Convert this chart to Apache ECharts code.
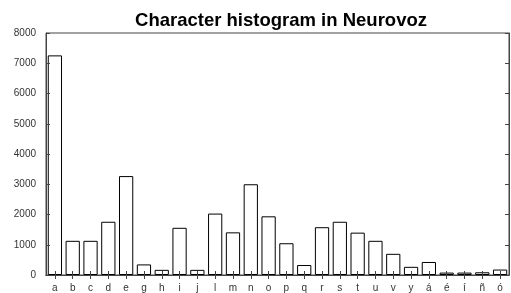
<!DOCTYPE html>
<html><head><meta charset="utf-8">
<script src="https://cdn.jsdelivr.net/npm/echarts@6/dist/echarts.min.js"></script>
<style>html,body{margin:0;padding:0;background:#fff}#c{width:511px;height:293px}</style>
</head><body><div id="c"></div>
<script>
var categories = ['a','b','c','d','e','g','h','i','j','l','m','n','o','p','q','r','s','t','u','v','y','á','é','í','ñ','ó'];
var counts = [7260,1130,1130,1760,3270,350,170,1560,170,2030,1410,3000,1940,1050,330,1580,1760,1400,1130,700,270,430,80,80,90,180];
var yTicks = {min:0, max:8000, interval:1000};
var titleText = 'Character histogram in Neurovoz';

var font = 'Liberation Sans, Arial, Helvetica, sans-serif';
var axisColor = '#444';
var tick = {show:true, inside:true, length:4, lineStyle:{color:axisColor, width:1}};
var chart = echarts.init(document.getElementById('c'), null, {renderer:'canvas'});
chart.setOption({
  animation:false,
  title:{text:titleText, left:276, top:6, textAlign:'center',
    textStyle:{fontFamily:font, fontSize:18.5, fontWeight:'bold', color:'#000'}},
  grid:{left:46, right:2, top:33, bottom:18, containLabel:false,
    show:true, borderColor:axisColor, borderWidth:1, backgroundColor:'transparent'},
  xAxis:[{
    type:'category', data:categories, position:'bottom', z:5,
    axisLine:{show:true, lineStyle:{color:axisColor, width:1}},
    axisTick:Object.assign({alignWithLabel:true}, tick),
    axisLabel:{fontFamily:font, fontSize:10, color:'#333', margin:8, interval:0}
  },{
    type:'category', data:categories, position:'top', z:5,
    axisLine:{show:true, lineStyle:{color:axisColor, width:1}},
    axisTick:Object.assign({alignWithLabel:true}, tick),
    axisLabel:{show:false}
  }],
  yAxis:[{
    type:'value', min:yTicks.min, max:yTicks.max, interval:yTicks.interval, position:'left', z:5,
    axisLine:{show:true, lineStyle:{color:axisColor, width:1}},
    axisTick:tick,
    splitLine:{show:false},
    axisLabel:{fontFamily:font, fontSize:10, color:'#333', margin:10, formatter:function(v){return String(v);}}
  },{
    type:'value', min:yTicks.min, max:yTicks.max, interval:yTicks.interval, position:'right', z:5,
    axisLine:{show:true, lineStyle:{color:axisColor, width:1}},
    axisTick:tick,
    splitLine:{show:false},
    axisLabel:{show:false}
  }],
  series:[{
    type:'bar', data:counts, xAxisIndex:0, yAxisIndex:0,
    barCategoryGap:'20%',
    itemStyle:{color:'#fff', borderColor:'#000', borderWidth:1}
  },{
    type:'bar', data:counts, xAxisIndex:1, yAxisIndex:1, silent:true,
    barCategoryGap:'20%', z:1,
    itemStyle:{color:'rgba(0,0,0,0)', borderWidth:0}
  }]
});
</script></body></html>
